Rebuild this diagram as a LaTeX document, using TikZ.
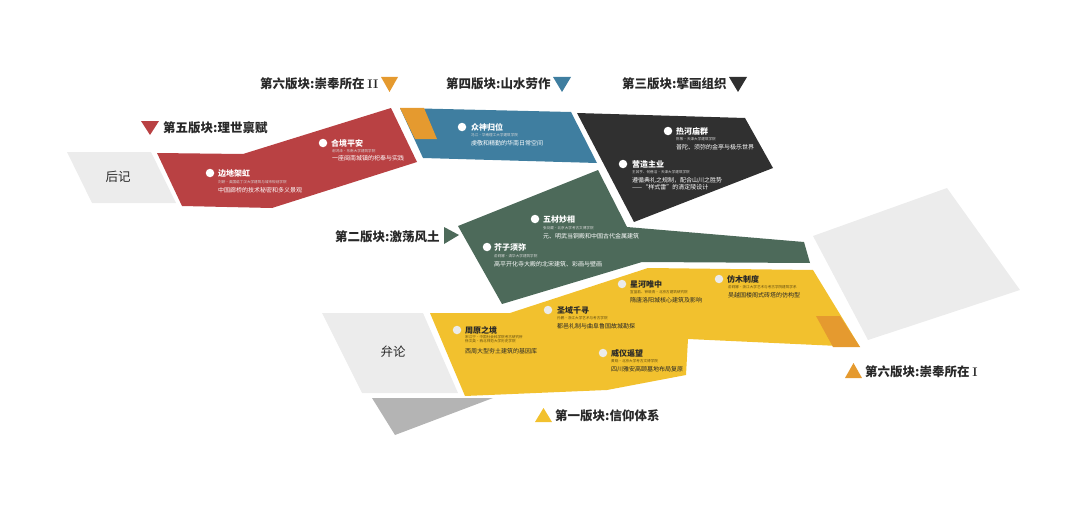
\documentclass[tikz,border=0pt]{standalone}
\usepackage{fontspec}
\newfontfamily\cjk{Noto Sans CJK SC}
\definecolor{cred}{RGB}{185,65,67}
\definecolor{corange}{RGB}{229,154,47}
\definecolor{cblue}{RGB}{63,126,160}
\definecolor{cdark}{RGB}{48,48,48}
\definecolor{cgreen}{RGB}{77,106,90}
\definecolor{cyellow}{RGB}{242,193,46}
\definecolor{clight}{RGB}{236,236,236}
\definecolor{cmid}{RGB}{180,180,180}
\definecolor{ctext}{RGB}{40,40,40}
\tikzset{
  title/.style={font=\cjk\bfseries\fontsize{8}{8}\selectfont, anchor=west, inner sep=0pt, text=white},
  author/.style={font=\cjk\fontsize{3.6}{4}\selectfont, anchor=west, inner sep=0pt, text=white!85!black},
  desc/.style={font=\cjk\fontsize{6}{7.2}\selectfont, anchor=west, inner sep=0pt, text=white, align=left},
  ytitle/.style={title, text=ctext},
  yauthor/.style={author, text=black!60!cyellow},
  ydesc/.style={desc, text=ctext},
  dot/.style={circle, fill=white, inner sep=0pt, minimum size=8.5pt},
  ydot/.style={dot, fill=black!8},
  sec/.style={font=\cjk\bfseries\fontsize{12.5}{12.5}\selectfont, anchor=west, inner sep=0pt, text=ctext},
  big/.style={font=\cjk\fontsize{12.5}{12.5}\selectfont, inner sep=0pt, text=ctext},
}
\begin{document}
\begin{tikzpicture}[x=1pt,y=-1pt]
\useasboundingbox (0,0) rectangle (1080,511);
% shapes
\fill[clight] (67,152) -- (151,152) -- (176,203) -- (92,203) -- cycle;
\fill[cred] (157,153) -- (243,154) -- (391,108) -- (417,162) -- (272,208) -- (182,206) -- cycle;
\fill[cblue] (400,108) -- (571,112) -- (597,163) -- (423,158) -- cycle;
\fill[corange] (400,108) -- (424,108) -- (437,139) -- (415,139) -- cycle;
\fill[cdark] (577,113) -- (745,118) -- (773,168) -- (634,222) -- cycle;
\fill[cgreen] (458,226) -- (598,170) -- (627,227) -- (804,242) -- (810,263) -- (642,262) -- (502,304) -- cycle;
\fill[clight] (813,236) -- (947,188) -- (1020,290) -- (868,340) -- cycle;
\fill[cyellow] (430,313) -- (510,313) -- (648,268) -- (813,270) -- (860,347) -- (688,339) -- (686,375) -- (607,390) -- (465,396) -- cycle;
\fill[corange] (816,316) -- (840,316) -- (860,347) -- (833,347) -- cycle;
\fill[clight] (322,313) -- (423,313) -- (458,393) -- (362,393) -- cycle;
\fill[cmid] (372,398) -- (493,398) -- (395,435) -- cycle;
% big labels
\node[big] (houji) at (118,177) {后记};
\node[big] (bianlun) at (393,352) {弁论};
% section labels
\fill[cred] (141,121) -- (159,121) -- (150,135) -- cycle;
\node[sec] (s5) at (163,128) {第五版块:理世禀赋};
\node[sec] (s6b) at (260,84) {第六版块:崇奉所在 {\rmfamily\bfseries II}};
\fill[corange] (381,77) -- (398,77) -- (389.5,92) -- cycle;
\node[sec] (s4) at (446,84) {第四版块:山水劳作};
\fill[cblue] (553,77) -- (571,77) -- (562,92) -- cycle;
\node[sec] (s3) at (622,84) {第三版块:擘画组织};
\fill[cdark] (729,77) -- (747,77) -- (738,92) -- cycle;
\node[sec] (s2) at (335,237) {第二版块:激荡风土};
\fill[cgreen] (444,227) -- (459,235) -- (444,244) -- cycle;
\fill[cyellow] (535,422) -- (552,422) -- (543.5,408) -- cycle;
\node[sec] (s1) at (555,416) {第一版块:信仰体系};
\fill[corange] (845,378) -- (862,378) -- (853.5,363) -- cycle;
\node[sec] (s6a) at (865,372) {第六版块:崇奉所在 {\rmfamily\bfseries I}};
% red items
\node[dot] (d1) at (323,143) {};
\node[title] (t1) at (331,143) {合境平安};
\node[author] (a1) at (332,151.5) {谢鸿泽·东南大学建筑学院};
\node[desc] (e1) at (332,158.5) {一座闽南城镇的祀奉与实践};
\node[dot] (d2) at (210,173) {};
\node[title] (t2) at (218,173) {边地架虹};
\node[author] (a2) at (218,182.5) {刘妍·英国诺丁汉大学建筑与城市规划学院};
\node[desc] (e2) at (218,190) {中国廊桥的技术秘密和多义景观};
% blue
\node[dot] (d3) at (462,127) {};
\node[title] (t3) at (471,127) {众神归位};
\node[author] (a3) at (471,135.5) {冯江·华南理工大学建筑学院};
\node[desc] (e3) at (471,143) {虔敬和精勤的华南日常空间};
% dark
\node[dot] (d4) at (668,131) {};
\node[title] (t4) at (676,131) {热河庙群};
\node[author] (a4) at (676,139) {陈筱·天津大学建筑学院};
\node[desc] (e4) at (676,147) {普陀、须弥的金亭与极乐世界};
\node[dot] (d5) at (623,164) {};
\node[title] (t5) at (632,164) {营造主业};
\node[author] (a5) at (632,172.5) {王其亨、何蓓洁·天津大学建筑学院};
\node[desc, anchor=north west] (e5) at (632,177) {遵循典礼之规制，配合山川之胜势\\——“样式雷”的清定陵设计};
% green
\node[dot] (d6) at (535,219) {};
\node[title] (t6) at (543,219) {五材妙相};
\node[author] (a6) at (543,228) {张剑葳·北京大学考古文博学院};
\node[desc] (e6) at (543,236) {元、明武当铜殿和中国古代金属建筑};
\node[dot] (d7) at (487,247) {};
\node[title] (t7) at (494,247) {芥子须弥};
\node[author] (a7) at (494,256) {俞莉娜·清华大学建筑学院};
\node[desc] (e7) at (494,264) {高平开化寺大殿的北宋建筑、彩画与壁画};
% yellow
\node[ydot] (d8) at (457,330) {};
\node[ytitle] (t8) at (465,330) {周原之境};
\node[yauthor, align=left, anchor=north west] (a8) at (465,335.5) {宋江宁·中国社会科学院考古研究所\\徐文英·西北师范大学历史学院};
\node[ydesc] (e8) at (465,351) {西周大型夯土建筑的基因库};
\node[ydot] (d9) at (548,310) {};
\node[ytitle] (t9) at (557,310) {圣域千寻};
\node[yauthor] (a9) at (557,318) {孙鹏·浙江大学艺术与考古学院};
\node[ydesc] (e9) at (557,326) {都邑礼制与曲阜鲁国故城勘探};
\node[ydot] (d10) at (622,284) {};
\node[ytitle] (t10) at (630,284) {星河唯中};
\node[yauthor] (a10) at (630,292.5) {宣蓝若、钟晓青·北京古建筑研究院};
\node[ydesc] (e10) at (630,300) {隋唐洛阳城核心建筑及影响};
\node[ydot] (d11) at (719,279) {};
\node[ytitle] (t11) at (727,279) {仿木制度};
\node[yauthor] (a11) at (728,287.5) {俞莉娜·浙江大学艺术与考古学院建筑学系};
\node[ydesc] (e11) at (728,295) {吴越国楼阁式砖塔的仿构型};
\node[ydot] (d12) at (603,353) {};
\node[ytitle] (t12) at (611,353) {威仪遥望};
\node[yauthor] (a12) at (611,361.5) {黄晓·北京大学考古文博学院};
\node[ydesc] (e12) at (611,369) {四川雅安高颐墓地布局复原};
\end{tikzpicture}
\end{document}
